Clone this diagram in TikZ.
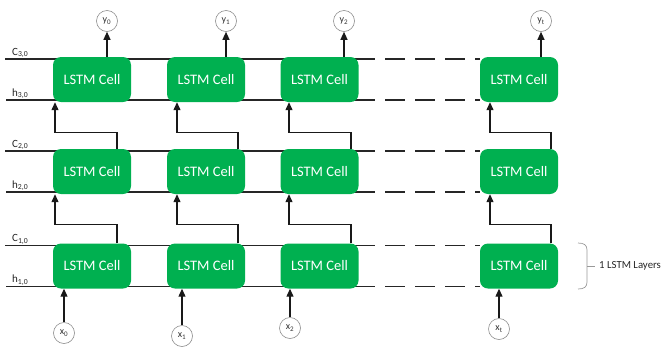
\documentclass[tikz,border=0pt]{standalone}
\usepackage{fontspec}
\setmainfont{Carlito}
\usetikzlibrary{arrows.meta,calc}
\definecolor{cellgreen}{RGB}{0,176,80}
\begin{document}
\begin{tikzpicture}[x=1pt,y=-1pt,
  cellbox/.style={rectangle, rounded corners=8pt, fill=cellgreen, minimum width=78pt, minimum height=45pt, inner sep=0pt, text=white, font=\fontsize{14.5}{16}\selectfont},
  rail/.style={line width=1.1pt, black!85},
  dashrail/.style={rail, dash pattern=on 20pt off 10pt},
  arr/.style={line width=1.2pt, black!90, -{Triangle[length=8pt,width=7pt]}},
  io/.style={circle, draw=black!45, line width=0.6pt, minimum size=21pt, inner sep=0pt, font=\fontsize{10}{12}\selectfont, text=black!80},
  lbl/.style={anchor=south west, inner sep=1pt, font=\fontsize{11}{12}\selectfont, text=black!85},
  bracestyle/.style={line width=0.7pt, black!40}
]
\useasboundingbox (0,0) rectangle (663,346);
\clip (0,0) rectangle (663,346);

% rails (C and h lines) for each layer
\foreach \yc/\yh in {59/100, 151/192, 245.5/286.5}{
  \draw[rail] (5,\yc) -- (375,\yc);
  \draw[dashrail] (385,\yc) -- (480,\yc);
  \draw[rail] (6,\yh) -- (375,\yh);
  \draw[dashrail] (385,\yh) -- (480,\yh);
}

% labels
\node[lbl] (lc3) at (11,59) {C\textsubscript{3,0}};
\node[lbl] (lh3) at (11,100) {h\textsubscript{3,0}};
\node[lbl] (lc2) at (11,151) {C\textsubscript{2,0}};
\node[lbl] (lh2) at (11,192) {h\textsubscript{2,0}};
\node[lbl] (lc1) at (11,245.5) {C\textsubscript{1,0}};
\node[lbl] (lh1) at (11,286.5) {h\textsubscript{1,0}};

% cells
\foreach \r/\yy in {3/79.5, 2/171.5, 1/266}{
  \node[cellbox] (c\r0) at (92,\yy) {LSTM Cell};
  \node[cellbox] (c\r1) at (206,\yy) {LSTM Cell};
  \node[cellbox] (c\r2) at (319.5,\yy) {LSTM Cell};
  \node[cellbox] (c\r3) at (519,\yy) {LSTM Cell};
}

% x positions of connectors
\coordinate (o0) at (117,0); \coordinate (i0) at (55,0);
\coordinate (o1) at (238,0); \coordinate (i1) at (177,0);
\coordinate (o2) at (351,0); \coordinate (i2) at (289,0);
\coordinate (o3) at (551,0); \coordinate (i3) at (490,0);

\foreach \k in {0,1,2,3}{
  \draw[arr] (c1\k.north -| o\k) -- ++(0,-18.5) -| (c2\k.south -| i\k);
  \draw[arr] (c2\k.north -| o\k) -- ++(0,-16) -| (c3\k.south -| i\k);
}

% outputs
\node[io] (y0) at (107,21) {y\textsubscript{0}};
\node[io] (y1) at (226,21) {y\textsubscript{1}};
\node[io] (y2) at (344,21) {y\textsubscript{2}};
\node[io] (yt) at (541,21) {y\textsubscript{t}};
\draw[arr] (c30.north -| y0) -- (y0.south);
\draw[arr] (c31.north -| y1) -- (y1.south);
\draw[arr] (c32.north -| y2) -- (y2.south);
\draw[arr] (c33.north -| yt) -- (yt.south);

% inputs
\node[io] (x0) at (64,333) {x\textsubscript{0}};
\node[io] (x1) at (182,336) {x\textsubscript{1}};
\node[io] (x2) at (290,328) {x\textsubscript{2}};
\node[io] (xt) at (499,329) {x\textsubscript{t}};
\draw[arr] (x0.north) -- (x0 |- c10.south);
\draw[arr] (x1.north) -- (x1 |- c11.south);
\draw[arr] (x2.north) -- (x2 |- c12.south);
\draw[arr] (xt.north) -- (xt |- c13.south);

% brace and layer label
\draw[bracestyle] (578,243) .. controls (584,243) and (587,245) .. (587,250) -- (587,282) .. controls (587,287) and (584,289) .. (578,289);
\coordinate (tick) at (595,266);
\draw[bracestyle] (587,266) -- (tick);
\node[anchor=west, inner sep=0pt, font=\fontsize{10.8}{13}\selectfont, text=black!85] (layer) at (599,266) {1 LSTM Layers};
\end{tikzpicture}
\end{document}
